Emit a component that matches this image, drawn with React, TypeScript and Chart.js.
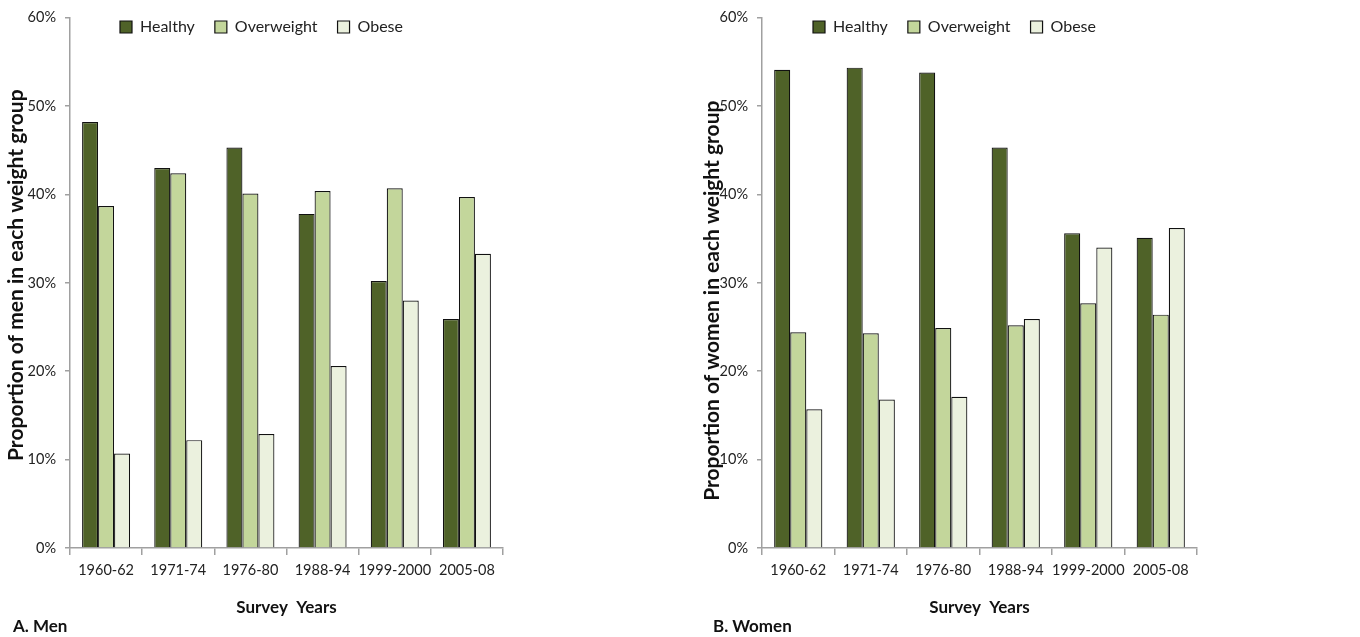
import React, { useEffect, useRef } from "react";
import { Chart, registerables } from "chart.js";

Chart.register(...registerables);

const CATEGORIES = ["1960-62", "1971-74", "1976-80", "1988-94", "1999-2000", "2005-08"];
const SERIES_NAMES = ["Healthy", "Overweight", "Obese"];

const MEN_HEALTHY = [48.2, 43.0, 45.3, 37.8, 30.2, 25.9];
const MEN_OVERWEIGHT = [38.7, 42.4, 40.1, 40.4, 40.7, 39.7];
const MEN_OBESE = [10.7, 12.2, 12.9, 20.6, 28.0, 33.3];

const WOMEN_HEALTHY = [54.1, 54.35, 53.8, 45.3, 35.6, 35.1];
const WOMEN_OVERWEIGHT = [24.4, 24.3, 24.9, 25.2, 27.7, 26.4];
const WOMEN_OBESE = [15.7, 16.8, 17.1, 25.9, 34.0, 36.2];

const Y_TICKS = [0, 10, 20, 30, 40, 50, 60];

const COLORS = ["#4f6228", "#c3d69b", "#ebf1de"];
const FONT = "Lato, 'Open Sans', sans-serif";
const AXIS_COLOR = "#a0a0a0";

type PanelProps = {
  left: number;
  series: number[][];
  yTitle: string;
  leadSpaces: number;
  trailSpaces: number;
  areaLeft: number;
  areaRight: number;
  titlePad: number;
  legendX: number;
};

const CANVAS_W = 680;
const CANVAS_H = 620;
const AREA_TOP = 17;
const AREA_BOTTOM = 548;
const LEGEND_Y = 27;
const LEGEND_FONT = 16;

function Panel(props: PanelProps) {
  const ref = useRef<HTMLCanvasElement | null>(null);
  useEffect(() => {
    if (!ref.current) return;
    const legendShift = {
      id: "legendShift",
      afterLayout(chart: any) {
        const lg = chart.legend;
        if (!lg) return;
        const pad = lg.options.labels.padding;
        lg.left = props.legendX - pad;
        lg.right = chart.width;
        lg.top = LEGEND_Y - pad - LEGEND_FONT / 2;
        lg.bottom = lg.top + 2 * pad + LEGEND_FONT + 10;
        lg.width = lg.right - lg.left;
        lg.height = lg.bottom - lg.top;
      },
    };
    const chart = new Chart(ref.current, {
      type: "bar",
      data: {
        labels: CATEGORIES,
        datasets: SERIES_NAMES.map((name, i) => ({
          label: name,
          data: props.series[i],
          backgroundColor: COLORS[i],
          borderColor: "#111",
          borderWidth: 1.2,
          categoryPercentage: 0.665,
          barPercentage: 1,
        })),
      },
      options: {
        responsive: false,
        animation: false,
        layout: {
          padding: { left: 0, top: AREA_TOP - 1, right: CANVAS_W - props.areaRight, bottom: 0 },
        },
        plugins: {
          tooltip: { enabled: false },
          legend: {
            position: "top",
            align: "start",
            maxHeight: 1,
            labels: {
              boxWidth: 12,
              boxHeight: 12,
              padding: 20,
              color: "#222",
              font: { family: FONT, size: LEGEND_FONT },
            },
          },
        },
        scales: {
          x: {
            grid: {
              offset: true,
              drawOnChartArea: false,
              drawTicks: true,
              tickLength: 7,
              color: AXIS_COLOR,
              lineWidth: 1.5,
            },
            border: { color: AXIS_COLOR, width: 1.5 },
            ticks: {
              color: "#222",
              font: { family: FONT, size: 14.5 },
              padding: 7,
              maxRotation: 0,
              autoSkip: false,
            },
            title: {
              display: true,
              text: "Survey  Years",
              color: "#111",
              font: { family: FONT, size: 17, weight: "bold" },
              padding: { top: 0, bottom: 2 },
            },
            afterFit: (s: any) => {
              s.height = CANVAS_H - AREA_BOTTOM;
            },
          },
          y: {
            min: 0,
            max: 60,
            afterBuildTicks: (s: any) => {
              s.ticks = Y_TICKS.map((v) => ({ value: v }));
            },
            grid: {
              drawOnChartArea: false,
              drawTicks: true,
              tickLength: 5,
              color: AXIS_COLOR,
              lineWidth: 1.5,
            },
            border: { color: AXIS_COLOR, width: 1.5 },
            ticks: {
              color: "#222",
              font: { family: FONT, size: 14.5 },
              padding: 9,
              callback: (v: any) => v + "%",
            },
            title: {
              display: true,
              text: " ".repeat(props.leadSpaces) + props.yTitle + " ".repeat(props.trailSpaces),
              color: "#111",
              font: { family: FONT, size: 21, weight: "bold" },
              padding: { top: props.titlePad, bottom: 0 },
            },
            afterFit: (s: any) => {
              s.width = props.areaLeft;
            },
          },
        },
      },
      plugins: [legendShift],
    });
    return () => chart.destroy();
  }, []);
  return (
    <div style={{ position: "absolute", left: props.left, top: 0, width: CANVAS_W, height: CANVAS_H }}>
      <canvas ref={ref} width={CANVAS_W} height={CANVAS_H} style={{ width: CANVAS_W, height: CANVAS_H }} />
    </div>
  );
}

const labelStyle: React.CSSProperties = {
  position: "absolute",
  top: 616,
  fontFamily: FONT,
  fontWeight: "bold",
  fontSize: 17,
  lineHeight: "20px",
  color: "#111",
  whiteSpace: "nowrap",
};

export default function App() {
  return (
    <div>
      <Panel
        left={0}
        series={[MEN_HEALTHY, MEN_OVERWEIGHT, MEN_OBESE]}
        yTitle="Proportion of men in each weight group"
        leadSpaces={3}
        trailSpaces={0}
        areaLeft={70}
        areaRight={503}
        titlePad={4}
        legendX={120}
      />
      <Panel
        left={680}
        series={[WOMEN_HEALTHY, WOMEN_OVERWEIGHT, WOMEN_OBESE]}
        yTitle="Proportion of women in each weight group"
        leadSpaces={0}
        trailSpaces={7}
        areaLeft={82}
        areaRight={517}
        titlePad={19.5}
        legendX={133}
      />
      <div style={{ ...labelStyle, left: 13 }}>A. Men</div>
      <div style={{ ...labelStyle, left: 713 }}>B. Women</div>
    </div>
  );
}
